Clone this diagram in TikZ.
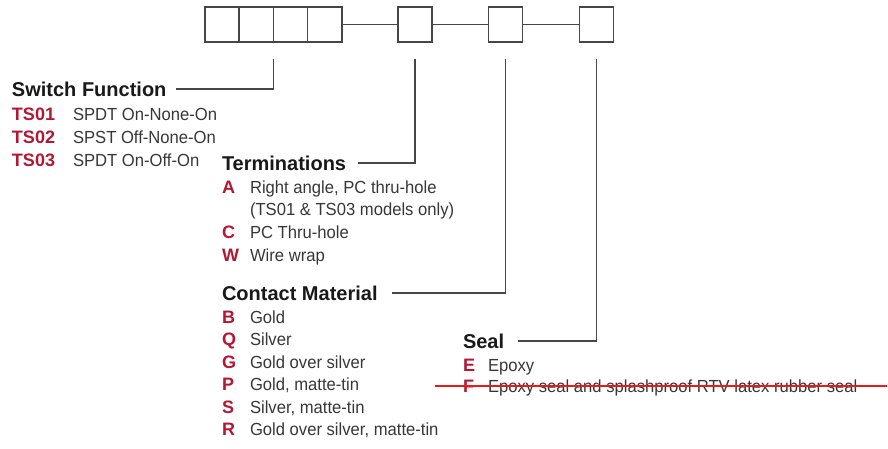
\documentclass[tikz,border=0pt]{standalone}
\usepackage{fontspec}
\setmainfont{Liberation Sans}
\newfontfamily\itemfont[FakeStretch=0.95]{Liberation Sans}
\usepackage{xcolor}
\usetikzlibrary{positioning}
\definecolor{codered}{RGB}{178,24,52}
\definecolor{boxgray}{RGB}{70,70,70}
\definecolor{headblack}{RGB}{25,25,25}
\definecolor{textgray}{RGB}{55,55,55}
\definecolor{strikered}{RGB}{235,25,25}

\begin{document}
\begin{tikzpicture}[x=1pt, y=-1pt, font=\fontsize{17}{17}\selectfont,
  every node/.style={inner sep=0pt, outer sep=0pt},
  digit/.style={draw=boxgray, line width=1.5pt, minimum width=34.25pt, minimum height=35pt},
  group/.style={anchor=base west, text=headblack, font=\fontsize{20}{20}\selectfont\bfseries, text height=14pt, text depth=0pt},
  code/.style={anchor=base west, text=codered, font=\fontsize{18}{18}\selectfont\bfseries},
  option/.style={anchor=base west, text=textgray, font=\fontsize{17.5}{17.5}\itemfont},
  leader/.style={draw=boxgray, line width=1.3pt},
  strike/.style={draw=strikered, line width=1.5pt}]
\useasboundingbox (0,0) rectangle (888,448);

% part number boxes
\node [digit] (d1) at (222,24.5) {};
\node [digit, right=0pt of d1] (d2) {};
\node [digit, right=0pt of d2] (d3) {};
\node [digit, right=0pt of d3] (d4) {};
\node [digit] (d5) at (415,24.5) {};
\node [digit] (d6) at (505.5,24.5) {};
\node [digit] (d7) at (596.5,24.5) {};
\draw [leader] (d4.east) -- (d5.west);
\draw [leader] (d5.east) -- (d6.west);
\draw [leader] (d6.east) -- (d7.west);

% switch function
\node [group] (sf) at (12,96) {Switch Function};
\node [code] (ts01) at (12,120) {TS01};
\node [option] (ts01t) at (73,120) {SPDT On-None-On};
\node [code] (ts02) at (12,143) {TS02};
\node [option] (ts02t) at (73,143) {SPST Off-None-On};
\node [code] (ts03) at (12,166) {TS03};
\node [option] (ts03t) at (73,166) {SPDT On-Off-On};

% terminations
\node [group] (term) at (222,170) {Terminations};
\node [code] (termA) at (222,193) {A};
\node [option] (termAt) at (250,193) {Right angle, PC thru-hole};
\node [option] (termAt2) at (250,215.5) {(TS01 \& TS03 models only)};
\node [code] (termC) at (222,238) {C};
\node [option] (termCt) at (250,238) {PC Thru-hole};
\node [code] (termW) at (222,261.5) {W};
\node [option] (termWt) at (250,261.5) {Wire wrap};

% contact material
\node [group] (cm) at (222,300) {Contact Material};
\node [code] (cmB) at (222,323) {B};
\node [option] (cmBt) at (250,323) {Gold};
\node [code] (cmQ) at (222,345.5) {Q};
\node [option] (cmQt) at (250,345.5) {Silver};
\node [code] (cmG) at (222,368) {G};
\node [option] (cmGt) at (250,368) {Gold over silver};
\node [code] (cmP) at (222,390.5) {P};
\node [option] (cmPt) at (250,390.5) {Gold, matte-tin};
\node [code] (cmS) at (222,413) {S};
\node [option] (cmSt) at (250,413) {Silver, matte-tin};
\node [code] (cmR) at (222,435.5) {R};
\node [option] (cmRt) at (250,435.5) {Gold over silver, matte-tin};

% seal
\node [group] (seal) at (463,348) {Seal};
\node [code] (sealE) at (463,371) {E};
\node [option] (sealEt) at (488,371) {Epoxy};
\node [code] (sealF) at (463,392.5) {F};
\node [option] (sealFt) at (488,392.5) {Epoxy seal and splashproof RTV latex rubber seal};

% leaders
\coordinate (t1) at ([yshift=-17pt]d3.south west);
\coordinate (t2) at ([yshift=-17pt]d5.south);
\coordinate (t3) at ([yshift=-17pt]d6.south);
\coordinate (t4) at ([yshift=-17pt]d7.south);
\draw [leader] (t1) |- ([xshift=10pt]sf.east);
\draw [leader] (t2) |- ([xshift=12pt]term.east);
\draw [leader] (t3) |- ([xshift=14pt]cm.east);
\draw [leader] (t4) |- ([xshift=14pt]seal.east);

% struck-out option
\coordinate (strikeL) at (435,386);
\coordinate (strikeR) at (887,386);
\draw [strike] (strikeL) -- (strikeR);
\end{tikzpicture}
\end{document}
